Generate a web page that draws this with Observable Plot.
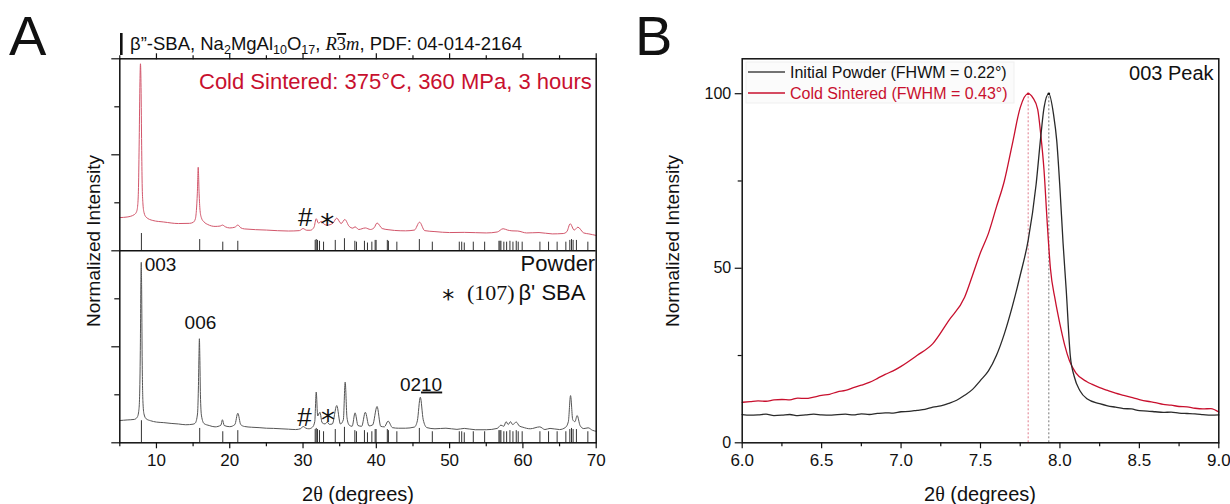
<!DOCTYPE html>
<html><head><meta charset="utf-8">
<script src="https://cdn.jsdelivr.net/npm/d3@7"></script>
<script src="https://cdn.jsdelivr.net/npm/@observablehq/plot@0.6"></script>
<style>
html,body{margin:0;padding:0;background:#fff;}
#wrap{position:relative;width:1230px;height:504px;overflow:hidden;background:#fff;}
#wrap svg{position:absolute;top:0;}
</style></head>
<body><div id="wrap"></div>
<script>
// ---------- DATA ----------
// Panel A: XRD patterns, [2theta, normalized intensity (% of sub-panel)]
const powderPattern = [[5.0,11.6],[6.0,11.9],[7.0,12.2],[7.4,13.5],[7.6,17],[7.7,24],[7.8,48],[7.88,85],[7.93,94],[7.98,80],[8.05,45],[8.15,22],[8.3,15],[8.6,12.5],[9.2,11.5],[10,10.8],[11,10.5],[12,10.1],[13,9.8],[14,9.4],[15.0,9.7],[15.3,10.3],[15.6,15],[15.72,28],[15.8,45],[15.86,54.2],[15.92,45],[16.0,25],[16.15,14],[16.5,10],[17.2,9],[18,8.3],[18.8,9.2],[19.0,12],[19.25,9],[20.0,8.4],[20.7,9.5],[21.1,15.4],[21.5,9.5],[22,8.5],[23,8.1],[24,7.9],[25,7.6],[26,7.5],[27,7.3],[28,7.1],[29,6.9],[29.7,7.4],[30.0,8.5],[30.4,7.6],[30.8,7.3],[31.3,8.2],[31.6,11],[31.8,26.4],[32.0,14],[32.3,15.9],[32.6,10.5],[33.0,9.8],[33.3,10.8],[33.6,9.6],[34.0,9.8],[34.6,19.4],[35.1,9.8],[35.5,12],[35.75,31.6],[36.0,13],[36.3,9.2],[36.7,8.6],[37.1,15.6],[37.5,9],[38.0,8.6],[38.5,15.9],[39.0,8.8],[39.5,9.3],[40.1,18.9],[40.6,8.6],[41.1,8.3],[41.6,11.3],[42.2,7.9],[43.0,7.6],[44,7.6],[45.2,8.2],[45.6,11.5],[46.0,23.7],[46.4,12],[46.9,7.9],[48,7.3],[49.5,7.6],[51,7.0],[52,7.5],[53.5,6.8],[55,6.8],[56.5,7.5],[57.0,9.2],[57.4,8.6],[57.7,11],[58.0,9.5],[58.3,11],[58.6,9.5],[59.1,10.8],[59.5,8.8],[60.0,8.1],[61,7.3],[62.3,8.3],[63,6.9],[63.7,7.5],[65,6.9],[65.8,8],[66.2,11],[66.5,24.6],[66.8,12],[67.1,11],[67.4,14.2],[67.8,9],[68.3,7.4],[68.9,7.8],[69.5,6.5],[70,6.0]];
const sinteredPattern = [[5.0,17.3],[6.0,17.6],[7.0,18.9],[7.3,20.5],[7.45,24],[7.55,33],[7.65,58],[7.75,88],[7.82,97.4],[7.9,85],[7.98,55],[8.05,35],[8.15,25],[8.3,20],[8.6,17.5],[9.5,15.8],[11,15.0],[13,14.2],[14.5,14.3],[15.0,14.8],[15.3,16.5],[15.45,21],[15.58,30],[15.7,43.5],[15.82,30],[15.95,21],[16.15,17],[16.5,15],[17,13.7],[18,12.7],[18.7,12.9],[19.0,13.4],[19.4,12.5],[20,11.9],[20.7,12.3],[21.1,13.4],[21.5,12.0],[22,11.4],[25,10.8],[28,10.3],[29.5,10.5],[30.0,11.6],[30.5,10.7],[31.0,10.7],[31.5,12.3],[31.8,16.7],[32.1,14.4],[32.5,15.3],[32.9,13.8],[33.3,13.4],[33.7,13.6],[34.1,14.5],[34.6,17],[35.2,14.2],[35.7,16.3],[36.3,12.7],[36.8,11.8],[37.1,12.5],[37.6,11.1],[38.5,11.9],[39.2,11.1],[39.7,12],[40.1,14.5],[40.8,11.6],[41.6,11],[42.5,10.6],[44,10.4],[45.2,10.8],[45.9,14.9],[46.6,10.5],[48,10],[50,9.5],[52,9.6],[55,9.3],[56.5,9.8],[57.3,11.5],[57.9,10.8],[58.5,10.4],[59.3,10.3],[60.5,9.3],[62.2,9.5],[64,8.8],[65.5,9.0],[66.0,10],[66.45,14.1],[67.0,10.8],[67.5,12.3],[68.3,9.3],[69,8.8],[70,8.0]];
// Reference pattern PDF 04-014-2164: [2theta, relative intensity]
const refSticks = [[7.95,1.0],[15.9,0.65],[19.05,0.5],[21.1,0.55],[31.66,0.6],[31.8,0.65],[31.98,0.6],[32.25,0.55],[32.8,0.5],[34.4,0.6],[35.65,0.7],[37.07,0.55],[37.29,0.5],[38.38,0.55],[38.79,0.45],[39.39,0.5],[39.84,0.6],[39.97,0.6],[41.5,0.6],[41.65,0.55],[42.8,0.5],[45.87,0.65],[47.64,0.5],[51.32,0.5],[51.65,0.5],[52.0,0.45],[53.23,0.5],[54.78,0.5],[56.73,0.55],[56.87,0.55],[57.0,0.55],[57.4,0.5],[57.78,0.5],[58.23,0.55],[58.64,0.5],[59.09,0.55],[59.36,0.5],[59.9,0.5],[62.32,0.5],[63.5,0.5],[64.67,0.5],[65.86,0.5],[66.4,0.6],[66.63,0.65],[66.85,0.6],[67.3,0.6],[68.86,0.5]];
// Panel B: 003 peak, [2theta, normalized intensity]
const initialPeak = [[6.0,8.1],[6.05,7.9],[6.1,8.0],[6.15,8.2],[6.2,7.8],[6.25,7.9],[6.3,8.1],[6.35,7.8],[6.4,8.0],[6.45,8.2],[6.5,8.0],[6.55,7.9],[6.6,8.1],[6.65,8.2],[6.7,8.0],[6.75,8.3],[6.8,8.1],[6.85,8.4],[6.9,8.6],[6.95,8.5],[7.0,8.9],[7.05,9.0],[7.1,9.3],[7.15,9.6],[7.2,10.2],[7.25,10.6],[7.3,11.3],[7.35,12.2],[7.4,13.6],[7.45,15.3],[7.5,17.9],[7.55,20.6],[7.6,25],[7.65,31.2],[7.7,39],[7.75,48],[7.8,58],[7.85,74],[7.88,88],[7.9,96],[7.93,100],[7.96,94],[7.98,86.5],[8.0,73],[8.02,57],[8.04,43.5],[8.065,25],[8.09,19],[8.125,15],[8.17,12.6],[8.25,11.2],[8.3,10.6],[8.35,10.2],[8.4,9.8],[8.45,9.7],[8.5,9.2],[8.55,9.1],[8.6,8.9],[8.65,8.7],[8.7,8.8],[8.75,8.5],[8.8,8.4],[8.85,8.3],[8.9,8.1],[8.95,7.9],[9.0,8.0]];
const coldPeak = [[6.0,11.6],[6.05,11.8],[6.1,12.0],[6.15,11.9],[6.2,12.3],[6.25,12.4],[6.3,12.3],[6.35,12.8],[6.4,12.7],[6.45,13.1],[6.5,13.6],[6.55,13.9],[6.6,14.6],[6.65,15.0],[6.7,15.8],[6.75,16.5],[6.8,17.3],[6.85,18.4],[6.9,19.6],[6.95,20.6],[7.0,21.9],[7.1,25.0],[7.2,28.4],[7.3,35.0],[7.4,41.7],[7.45,48.0],[7.5,54.5],[7.55,60],[7.6,67.5],[7.65,75],[7.7,85.5],[7.75,96],[7.8,100],[7.83,98.8],[7.86,95.5],[7.88,88],[7.9,78],[7.92,63],[7.94,50],[7.97,41],[8.0,34],[8.03,28],[8.06,23.5],[8.1,20],[8.17,17.5],[8.2,16.8],[8.25,15.8],[8.3,15.0],[8.35,14.2],[8.4,13.6],[8.45,13.0],[8.5,12.4],[8.55,11.9],[8.6,11.5],[8.65,11.0],[8.7,10.8],[8.75,10.4],[8.8,10.3],[8.85,9.9],[8.9,9.7],[8.95,9.8],[9.0,8.8]];
const peakCenters = [[7.80,"cold"],[7.93,"initial"]];
// Tick labels
const xTicksA = [10,20,30,40,50,60,70];
const xMinorA = [5,15,25,35,45,55,65];
const yMajorA = [0,50,100,150,200];
const yMinorA = [25,75,125,175];
const xTicksB = [6.0,6.5,7.0,7.5,8.0,8.5,9.0];
const xMinorB = [6.25,6.75,7.25,7.75,8.25,8.75];
const yTicksB = [0,50,100];
const yMinorB = [25,75];

// ---------- derived tables ----------
const powderRows = powderPattern.map(([x,i]) => ({x, y: i}));
const sinteredRows = sinteredPattern.map(([x,i]) => ({x, y: 100 + i}));
const sticksBottom = refSticks.map(([x,r]) => ({x, y1: 0, y2: r*11.5}));
const sticksTop = refSticks.map(([x,r]) => ({x, y1: 100, y2: 100 + r*9}));
const initialRows = initialPeak.map(([x,y]) => ({x,y}));
const coldRows = coldPeak.map(([x,y]) => ({x,y}));

const FONT = "Liberation Sans, Arial, Helvetica, sans-serif";
const STAR = "DejaVu Sans, Liberation Sans, sans-serif";
const RED = "#c8102e";
const note = (t, x, y, o = {}) => Plot.text([t], {x: () => x, y: () => y, text: d => d, fontSize: 19, fill: "#111", ...o});
const blank = () => "";

// ---------- Panel A ----------
const plotA = Plot.plot({
  width: 620, height: 504,
  marginTop: 58.3, marginBottom: 61.7, marginLeft: 119.3, marginRight: 24.3,
  x: {domain: [5, 70]},
  y: {domain: [0, 200]},
  style: {fontFamily: FONT, fontSize: "17px", color: "#111", background: "transparent", overflow: "visible"},
  marks: [
    Plot.ruleX(sticksTop, {x: "x", y1: "y1", y2: "y2", stroke: "#333", strokeWidth: 1}),
    Plot.ruleX(sticksBottom, {x: "x", y1: "y1", y2: "y2", stroke: "#333", strokeWidth: 1}),
    Plot.line(sinteredRows, {x: "x", y: "y", stroke: "#d2566b", strokeWidth: 1, curve: "monotone-x"}),
    Plot.line(powderRows, {x: "x", y: "y", stroke: "#555", strokeWidth: 1, curve: "monotone-x"}),
    Plot.ruleY([100], {stroke: "#111", strokeWidth: 1.5}),
    Plot.frame({stroke: "#111", strokeWidth: 1.5}),
    Plot.axisX({ticks: xTicksA, tickSize: 6, tickPadding: 5, label: null, fontSize: 17, strokeWidth: 1.2}),
    Plot.axisX({ticks: xMinorA, tickSize: 4, tickFormat: blank, label: null, strokeWidth: 1.2}),
    Plot.axisX({anchor: "top", ticks: xTicksA, tickSize: 6, tickFormat: blank, label: null, strokeWidth: 1.2}),
    Plot.axisX({anchor: "top", ticks: xMinorA, tickSize: 4, tickFormat: blank, label: null, strokeWidth: 1.2}),
    Plot.axisY({ticks: yMajorA, tickSize: 8, tickFormat: blank, label: null, strokeWidth: 1.2}),
    Plot.axisY({ticks: yMinorA, tickSize: 5, tickFormat: blank, label: null, strokeWidth: 1.2}),
    note("Cold Sintered: 375°C, 360 MPa, 3 hours", 69.4, 188.2, {textAnchor: "end", fontSize: 22, fill: RED}),
    note("#", 30.3, 117.3, {fontSize: 26}),
    note("*", 33.3, 113.6, {fontSize: 28, fontFamily: STAR}),
    note("003", 8.4, 92.9, {textAnchor: "start"}),
    note("006", 16.0, 62.7),
    note("0210", 46.1, 30.4),
    note("#", 30.2, 13.3, {fontSize: 26}),
    note("*", 33.4, 11.1, {fontSize: 28, fontFamily: STAR}),
    note("Powder", 70, 92.9, {textAnchor: "end", fontSize: 22, dx: -1}),
    note("*", 49.8, 74.6, {fontSize: 24, fontFamily: STAR}),
    note("(107)", 52.36, 78.0, {textAnchor: "start", fontSize: 22, fontFamily: "Liberation Serif, Times New Roman, serif"}),
    note("β' SBA", 59.39, 78.0, {textAnchor: "start", fontSize: 22})
  ]
});
plotA.style.left = "0px";

// ---------- Panel B ----------
const plotB = Plot.plot({
  width: 610, height: 504,
  marginTop: 58.3, marginBottom: 61.7, marginLeft: 121.7, marginRight: 11.7,
  x: {domain: [6, 9]},
  y: {domain: [0, 110]},
  style: {fontFamily: FONT, fontSize: "16px", color: "#111", background: "transparent", overflow: "visible"},
  marks: [
    Plot.ruleX(peakCenters, {x: d => d[0], y1: 0, y2: 100, stroke: d => d[1] === "cold" ? "#e07a8a" : "#777", strokeWidth: 1, strokeDasharray: "2,2"}),
    Plot.line(coldRows, {x: "x", y: "y", stroke: RED, strokeWidth: 1.3, curve: "monotone-x"}),
    Plot.line(initialRows, {x: "x", y: "y", stroke: "#2a2a2a", strokeWidth: 1.3, curve: "monotone-x"}),
    Plot.dot(peakCenters, {x: d => d[0], y: () => 100, r: 1.3, fill: d => d[1] === "cold" ? RED : "#111"}),
    Plot.frame({stroke: "#111", strokeWidth: 1.5}),
    Plot.axisX({ticks: xTicksB, tickSize: 6, tickPadding: 5, tickFormat: d3.format(".1f"), label: null, fontSize: 17, strokeWidth: 1.2}),
    Plot.axisX({ticks: xMinorB, tickSize: 4, tickFormat: blank, label: null, strokeWidth: 1.2}),
    Plot.axisY({ticks: yTicksB, tickSize: 7, tickPadding: 4, label: null, fontSize: 16, strokeWidth: 1.2}),
    Plot.axisY({ticks: yMinorB, tickSize: 4, tickFormat: blank, label: null, strokeWidth: 1.2}),
    note("003 Peak", 8.967, 105.8, {textAnchor: "end", fontSize: 20})
  ]
});
plotB.style.left = "620px";

const wrap = document.getElementById("wrap");
wrap.appendChild(plotA);
wrap.appendChild(plotB);

// underline "10" in 0210
plotA.querySelectorAll("text").forEach(t => {
  if (t.textContent === "0210") {
    const node = t.querySelector("tspan") || t;
    node.textContent = "02";
    const ts = document.createElementNS("http://www.w3.org/2000/svg", "tspan");
    ts.setAttribute("style", "text-decoration:underline");
    ts.textContent = "10";
    node.appendChild(ts);
  }
});

// ---------- overlay text ----------
const ov = d3.select(wrap).append("svg").attr("width", 1230).attr("height", 504)
  .style("left", "0px").style("pointer-events", "none")
  .attr("font-family", FONT).attr("fill", "#111");
ov.append("text").attr("x", 9).attr("y", 55).attr("font-size", 56).text("A");
ov.append("text").attr("x", 635).attr("y", 55).attr("font-size", 56).text("B");
// title with reference marker
ov.append("rect").attr("x", 120).attr("y", 33).attr("width", 2.6).attr("height", 22).attr("fill", "#111");
const tt = ov.append("text").attr("x", 130).attr("y", 50).attr("font-size", 18.5);
tt.append("tspan").text("β”-SBA, Na");
tt.append("tspan").attr("dy", 4).attr("font-size", 12.5).text("2");
tt.append("tspan").attr("dy", -4).text("MgAl");
tt.append("tspan").attr("dy", 4).attr("font-size", 12.5).text("10");
tt.append("tspan").attr("dy", -4).text("O");
tt.append("tspan").attr("dy", 4).attr("font-size", 12.5).text("17");
tt.append("tspan").attr("dy", -4).text(", ");
tt.append("tspan").attr("font-family", "Liberation Serif, serif").attr("font-style", "italic").text("R");
tt.append("tspan").attr("font-family", "Liberation Serif, serif").attr("style", "text-decoration:overline").text("3");
tt.append("tspan").attr("font-family", "Liberation Serif, serif").attr("font-style", "italic").text("m");
tt.append("tspan").text(", PDF: 04-014-2164");
// axis titles
ov.append("text").attr("transform", "translate(99.5,241) rotate(-90)").attr("text-anchor", "middle").attr("font-size", 19).text("Normalized Intensity");
ov.append("text").attr("transform", "translate(678.5,241) rotate(-90)").attr("text-anchor", "middle").attr("font-size", 19).text("Normalized Intensity");
const xl1 = ov.append("text").attr("x", 358).attr("y", 501).attr("text-anchor", "middle").attr("font-size", 20);
xl1.append("tspan").text("2");
xl1.append("tspan").attr("font-family", "Liberation Serif, serif").text("θ");
xl1.append("tspan").text(" (degrees)");
const xl2 = ov.append("text").attr("x", 980).attr("y", 501).attr("text-anchor", "middle").attr("font-size", 20);
xl2.append("tspan").text("2");
xl2.append("tspan").attr("font-family", "Liberation Serif, serif").text("θ");
xl2.append("tspan").text(" (degrees)");
// legend panel B
ov.append("rect").attr("x", 746).attr("y", 62).attr("width", 268).attr("height", 41).attr("fill", "#fbfbfb").attr("stroke", "#efefef");
ov.append("line").attr("x1", 748).attr("x2", 785).attr("y1", 72).attr("y2", 72).attr("stroke", "#444").attr("stroke-width", 1.5);
ov.append("line").attr("x1", 748).attr("x2", 785).attr("y1", 93).attr("y2", 93).attr("stroke", RED).attr("stroke-width", 1.5);
ov.append("text").attr("x", 790).attr("y", 77.7).attr("font-size", 16).text("Initial Powder (FHWM = 0.22°)");
ov.append("text").attr("x", 790).attr("y", 98.7).attr("font-size", 16).attr("fill", RED).text("Cold Sintered (FWHM = 0.43°)");
</script>
</body></html>
